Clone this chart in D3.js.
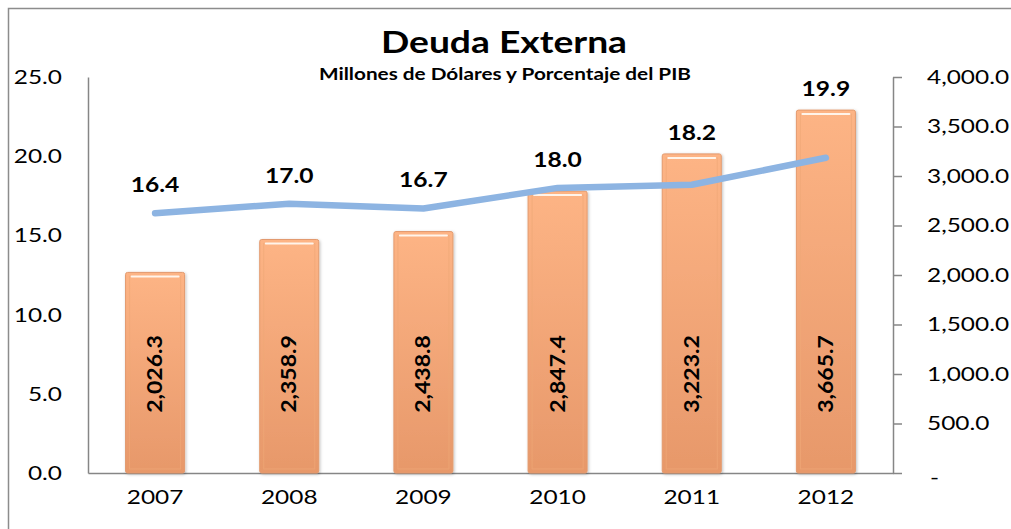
<!DOCTYPE html>
<meta charset="utf-8">
<style>
  body { margin: 0; background: #fff; }
  text { font-family: Lato, "Open Sans", sans-serif; }
</style>
<script src="https://d3js.org/d3.v7.min.js"></script>
<body>
<div id="chart"></div>
<script>

var years = ["2007", "2008", "2009", "2010", "2011", "2012"];
var deuda = [2026.3, 2358.9, 2438.8, 2847.4, 3223.2, 3665.7];   // millones US$
var pctPib = [16.4, 17.0, 16.7, 18.0, 18.2, 19.9];              // % del PIB
var leftTicks = [0, 5, 10, 15, 20, 25];
var rightTicks = [0, 500, 1000, 1500, 2000, 2500, 3000, 3500, 4000];

var width = 1011,
    height = 529;

// the original picture is a bit wider than tall, so widen the glyphs
function stretch(sel, k) {
  sel.each(function() {
    var len = this.getComputedTextLength();
    d3.select(this)
      .attr("textLength", len * k)
      .attr("lengthAdjust", "spacingAndGlyphs");
  });
}

var svg = d3.select("#chart")
  .append("svg")
    .attr("width", width)
    .attr("height", height);

// outer frame (runs off the right and bottom edges)
svg.append("rect")
  .attr("x", 8.5).attr("y", 8.5)
  .attr("width", 1010).attr("height", 530)
  .attr("fill", "none")
  .attr("stroke", "#8c8c8c")
  .attr("stroke-width", 1.5);

var defs = svg.append("defs");
var grad = defs.append("linearGradient")
  .attr("id", "barGrad")
  .attr("x1", 0).attr("y1", 0).attr("x2", 0).attr("y2", 1);
grad.append("stop").attr("offset", "0%").attr("stop-color", "#fdb485");
grad.append("stop").attr("offset", "100%").attr("stop-color", "#e7986a");

var shadow = defs.append("filter").attr("id", "shadow")
  .attr("x", "-20%").attr("y", "-5%").attr("width", "140%").attr("height", "115%");
shadow.append("feDropShadow")
  .attr("dx", 1).attr("dy", 1).attr("stdDeviation", 1.5)
  .attr("flood-color", "#000").attr("flood-opacity", 0.25);

var x = d3.scaleBand()
  .domain(years)
  .range([88, 893])
  .paddingInner(0.56)
  .paddingOuter(0.28);

var yL = d3.scaleLinear().domain([0, 25]).range([473, 77]);
var yR = d3.scaleLinear().domain([0, 4000]).range([473, 77]);

// title
svg.append("text")
  .attr("x", 504).attr("y", 53)
  .attr("text-anchor", "middle")
  .style("font-size", "31px")
  .style("font-weight", "bold")
  .text("Deuda Externa")
  .call(stretch, 1.2);

svg.append("text")
  .attr("x", 505).attr("y", 80)
  .attr("text-anchor", "middle")
  .style("font-size", "17px")
  .style("font-weight", "bold")
  .text("Millones de Dólares y Porcentaje del PIB")
  .call(stretch, 1.22);

// axes
var axisColor = "#868686";

var gLeft = svg.append("g")
  .attr("transform", "translate(88,0)")
  .call(d3.axisLeft(yL)
    .tickValues(leftTicks)
    .tickFormat(d3.format(".1f"))
    .tickSize(0)
    .tickPadding(26));

var fmtR = d3.format(",.1f");
var gRight = svg.append("g")
  .attr("transform", "translate(893,0)")
  .call(d3.axisRight(yR)
    .tickValues(rightTicks)
    .tickFormat(function(d) { return d === 0 ? "-" : fmtR(d); })
    .tickSize(9)
    .tickSizeOuter(0)
    .tickPadding(25));

var gBottom = svg.append("g")
  .attr("transform", "translate(0,473)")
  .call(d3.axisBottom(x)
    .tickSize(0)
    .tickSizeOuter(0)
    .tickPadding(17));

[gLeft, gRight, gBottom].forEach(function(g) {
  g.select(".domain").attr("stroke", axisColor).attr("stroke-width", 1.5);
  g.selectAll(".tick line").attr("stroke", axisColor).attr("stroke-width", 1.5);
  g.selectAll(".tick text")
    .attr("fill", "#000")
    .style("font-family", "Lato, 'Open Sans', sans-serif")
    .style("font-size", "20px")
    .call(stretch, 1.22);
});
gRight.selectAll(".tick text")
  .filter(function(d) { return d === 0; })
  .attr("dx", 3)
  .attr("dy", "0.5em");

// bars
var bars = svg.append("g").selectAll("g.bar")
  .data(years)
  .enter().append("g")
    .attr("class", "bar");

bars.append("rect")
  .attr("x", function(d) { return x(d); })
  .attr("y", function(d, i) { return yR(deuda[i]); })
  .attr("width", x.bandwidth())
  .attr("height", function(d, i) { return yR(0) - yR(deuda[i]); })
  .attr("rx", 2)
  .attr("fill", "url(#barGrad)")
  .attr("stroke", "#e39a6e")
  .attr("stroke-width", 1)
  .attr("filter", "url(#shadow)");

// inner bevel
bars.append("rect")
  .attr("x", function(d) { return x(d) + 4; })
  .attr("y", function(d, i) { return yR(deuda[i]) + 4; })
  .attr("width", x.bandwidth() - 8)
  .attr("height", function(d, i) { return yR(0) - yR(deuda[i]) - 8; })
  .attr("fill", "none")
  .attr("stroke", "#f0a878")
  .attr("stroke-opacity", 0.7)
  .attr("stroke-width", 1);

bars.append("line")
  .attr("x1", function(d) { return x(d) + 6; })
  .attr("x2", function(d) { return x(d) + x.bandwidth() - 6; })
  .attr("y1", function(d, i) { return yR(deuda[i]) + 4; })
  .attr("y2", function(d, i) { return yR(deuda[i]) + 4; })
  .attr("stroke", "#fff4ea")
  .attr("stroke-width", 2)
  .attr("stroke-linecap", "round");

// rotated bar labels
bars.append("text")
  .attr("transform", function(d) {
    return "translate(" + (x(d) + x.bandwidth() / 2) + "," + yR(1000) + ") rotate(-90)";
  })
  .attr("text-anchor", "middle")
  .attr("dy", "0.35em")
  .style("font-size", "20px")
  .style("font-weight", "bold")
  .text(function(d, i) { return fmtR(deuda[i]); })
  .call(stretch, 1.15);

// line
var line = d3.line()
  .x(function(d, i) { return x(years[i]) + x.bandwidth() / 2; })
  .y(function(d) { return yL(d); });

svg.append("path")
  .datum(pctPib)
  .attr("d", line)
  .attr("fill", "none")
  .attr("stroke", "#8db4e2")
  .attr("stroke-width", 6.5)
  .attr("stroke-linecap", "round")
  .attr("stroke-linejoin", "round");

// line labels, placed above whichever is higher: the bar or the point
svg.append("g").selectAll("text")
  .data(pctPib)
  .enter().append("text")
    .attr("x", function(d, i) { return x(years[i]) + x.bandwidth() / 2; })
    .attr("y", function(d, i) {
      var top = Math.min(yL(d), yR(deuda[i]));
      return top - (yL(d) < yR(deuda[i]) ? 21 : 14);
    })
    .attr("text-anchor", "middle")
    .style("font-size", "21px")
    .style("font-weight", "bold")
    .text(function(d) { return d3.format(".1f")(d); })
    .call(stretch, 1.17);

</script>
</body>
